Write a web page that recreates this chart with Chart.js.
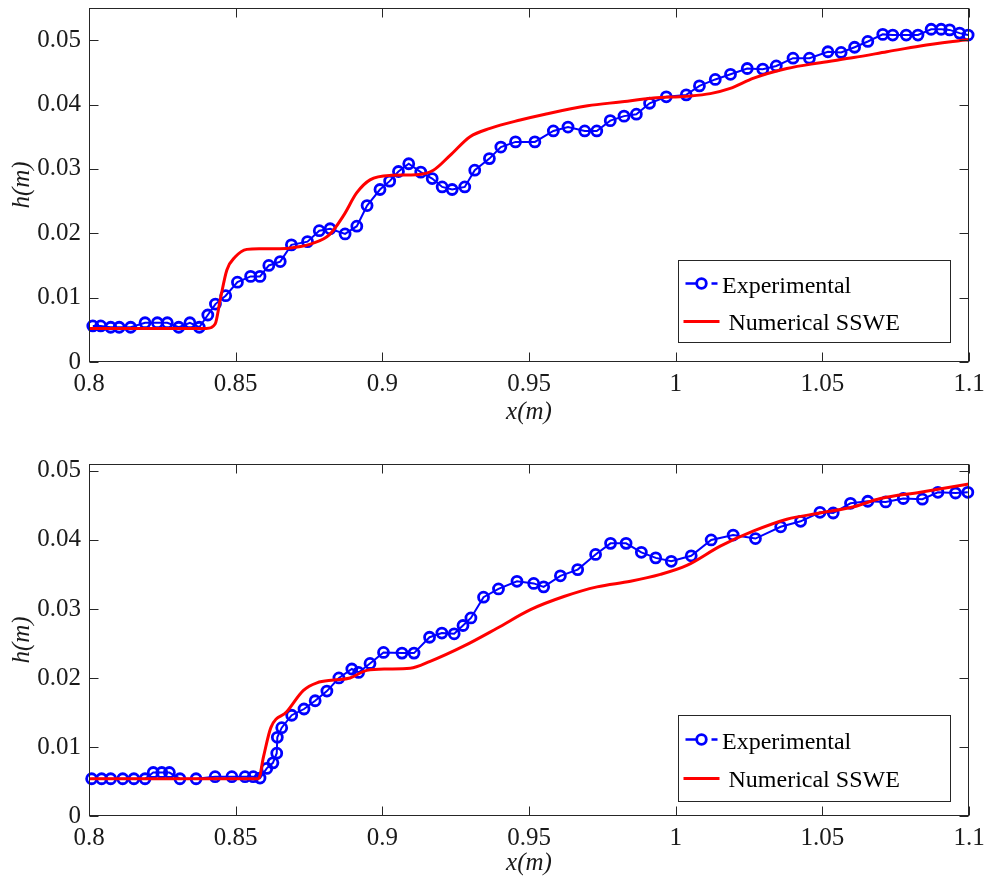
<!DOCTYPE html>
<html>
<head>
<meta charset="utf-8">
<script src="https://cdn.jsdelivr.net/npm/chart.js@4.4.0/dist/chart.umd.min.js"></script>
<style>
body { margin: 0; background: #fff; }
.panel { position: absolute; left: 0; width: 984px; }
#panel-top { top: 0; height: 442px; }
#panel-bottom { top: 442px; height: 443px; }
</style>
</head>
<body>
<div class="panel" id="panel-top"><canvas id="chart-top"></canvas></div>
<div class="panel" id="panel-bottom"><canvas id="chart-bottom"></canvas></div>
<script>
// x ticks shared by both panels
const xTicks = [0.8, 0.85, 0.9, 0.95, 1.0, 1.05, 1.1];
const xTickLabels = ['0.8', '0.85', '0.9', '0.95', '1', '1.05', '1.1'];

// top panel y ticks
const yTicksTop = [0, 0.01, 0.02, 0.03, 0.04, 0.05];
const yTickLabelsTop = ['0', '0.01', '0.02', '0.03', '0.04', '0.05'];
// bottom panel y ticks
const yTicksBottom = [0, 0.01, 0.02, 0.03, 0.04, 0.05];
const yTickLabelsBottom = ['0', '0.01', '0.02', '0.03', '0.04', '0.05'];

// top panel - experimental
const topExpX = [0.8013, 0.8040, 0.8074, 0.8103, 0.8142, 0.8191, 0.8233, 0.8267, 0.8306, 0.8344,
  0.8376, 0.8405, 0.8431, 0.8466, 0.8506, 0.8551, 0.8583, 0.8613, 0.8652, 0.8690,
  0.8745, 0.8785, 0.8822, 0.8873, 0.8913, 0.8948, 0.8992, 0.9025, 0.9055, 0.9090,
  0.9131, 0.9170, 0.9204, 0.9238, 0.9281, 0.9315, 0.9365, 0.9404, 0.9454, 0.9520,
  0.9583, 0.9633, 0.9690, 0.9731, 0.9777, 0.9824, 0.9866, 0.9911, 0.9968, 1.0036,
  1.0081, 1.0135, 1.0187, 1.0244, 1.0297, 1.0343, 1.0400, 1.0456, 1.0519, 1.0564,
  1.0610, 1.0655, 1.0706, 1.0740, 1.0786, 1.0826, 1.0871, 1.0905, 1.0934, 1.0968, 1.0997];
const topExpH = [0.0056, 0.0056, 0.0054, 0.0054, 0.0054, 0.0061, 0.0061, 0.0061, 0.0054, 0.0061,
  0.0054, 0.0073, 0.0090, 0.0103, 0.0124, 0.0133, 0.0133, 0.0150, 0.0156, 0.0182,
  0.0187, 0.0204, 0.0207, 0.0199, 0.0211, 0.0243, 0.0268, 0.0281, 0.0296, 0.0308,
  0.0295, 0.0285, 0.0272, 0.0268, 0.0272, 0.0298, 0.0316, 0.0334, 0.0342, 0.0342,
  0.0359, 0.0365, 0.0359, 0.0359, 0.0375, 0.0382, 0.0385, 0.0402, 0.0412, 0.0415,
  0.0429, 0.0439, 0.0447, 0.0456, 0.0455, 0.0460, 0.0472, 0.0472, 0.0482, 0.0481,
  0.0489, 0.0498, 0.0509, 0.0508, 0.0508, 0.0508, 0.0517, 0.0517, 0.0516, 0.0511, 0.0508];

// top panel - numerical SSWE
const topNumX = [0.800, 0.820, 0.840, 0.843, 0.8447, 0.847, 0.8498, 0.8538, 0.858, 0.865,
  0.870, 0.876, 0.882, 0.8867, 0.8913, 0.8958, 0.903, 0.9117, 0.9174, 0.9231,
  0.9299, 0.9367, 0.947, 0.9555, 0.970, 0.9811, 0.9924, 1.0038, 1.0118, 1.0186,
  1.0266, 1.0379, 1.0493, 1.0607, 1.072, 1.0834, 1.100];
const topNumH = [0.0052, 0.0052, 0.0052, 0.0059, 0.0096, 0.0143, 0.0163, 0.0175, 0.0176, 0.0176,
  0.0178, 0.0184, 0.0198, 0.0227, 0.0263, 0.0283, 0.0290, 0.0291, 0.0298, 0.0321,
  0.0350, 0.0363, 0.0376, 0.0385, 0.0398, 0.0404, 0.0410, 0.0413, 0.0417, 0.0425,
  0.0441, 0.0456, 0.0465, 0.0473, 0.0482, 0.0491, 0.0501];

// bottom panel - experimental
const botExpX = [0.8009, 0.8043, 0.8074, 0.8115, 0.8153, 0.8191, 0.8219, 0.8248, 0.8274, 0.8310,
  0.8365, 0.8430, 0.8487, 0.8532, 0.8560, 0.8583, 0.8606, 0.8627, 0.8640, 0.8642,
  0.8657, 0.8691, 0.8733, 0.8771, 0.8811, 0.8852, 0.8896, 0.8919, 0.8958, 0.9004,
  0.9067, 0.9108, 0.9161, 0.9203, 0.9245, 0.9275, 0.9302, 0.9345, 0.9396, 0.9459,
  0.9516, 0.9550, 0.9607, 0.9666, 0.9727, 0.9778, 0.9831, 0.9883, 0.9932, 0.9985,
  1.0053, 1.0121, 1.0196, 1.0272, 1.0358, 1.0426, 1.0492, 1.0537, 1.0596, 1.0655,
  1.0716, 1.0776, 1.0841, 1.0894, 1.0954, 1.0996];
const botExpH = [0.0054, 0.0054, 0.0054, 0.0054, 0.0054, 0.0054, 0.0063, 0.0063, 0.0063, 0.0054,
  0.0054, 0.0057, 0.0057, 0.0057, 0.0057, 0.0055, 0.0069, 0.0077, 0.0091, 0.0114,
  0.0128, 0.0146, 0.0155, 0.0167, 0.0181, 0.0200, 0.0213, 0.0208, 0.0221, 0.0237,
  0.0236, 0.0236, 0.0259, 0.0265, 0.0264, 0.0276, 0.0287, 0.0317, 0.0329, 0.0340,
  0.0337, 0.0332, 0.0348, 0.0357, 0.0379, 0.0395, 0.0395, 0.0382, 0.0374, 0.0369,
  0.0377, 0.0400, 0.0407, 0.0402, 0.0419, 0.0427, 0.0440, 0.0439, 0.0453, 0.0456,
  0.0455, 0.0460, 0.0459, 0.0469, 0.0468, 0.0469];

// bottom panel - numerical SSWE
const botNumX = [0.800, 0.830, 0.8578, 0.8595, 0.862, 0.8674, 0.8731, 0.8777, 0.8834, 0.889,
  0.8947, 0.9015, 0.9095, 0.9163, 0.9277, 0.9391, 0.9505, 0.9619, 0.9732, 0.9846,
  0.9948, 1.0038, 1.0152, 1.0266, 1.0379, 1.0493, 1.0607, 1.0698, 1.0834, 1.100];
const botNumH = [0.0054, 0.0054, 0.0054, 0.0086, 0.0128, 0.0151, 0.0182, 0.0193, 0.0197, 0.0200,
  0.0211, 0.0213, 0.0214, 0.0224, 0.0246, 0.0272, 0.0299, 0.0318, 0.0332, 0.0340,
  0.0350, 0.0363, 0.0391, 0.0413, 0.0430, 0.0439, 0.0448, 0.0460, 0.0469, 0.0481];

const seriesNames = ['Experimental', 'Numerical SSWE'];

const SERIF = "'Liberation Serif', 'Times New Roman', serif";
const INK = '#262626';

function toPoints(xs, ys) {
  return xs.map((x, i) => ({ x: x, y: ys[i] }));
}

// no extra room for edge labels, layout padding decides the plot box
function noEdgePadding(s) {
  s.paddingLeft = 0; s.paddingRight = 0; s.paddingTop = 0; s.paddingBottom = 0;
}

// MATLAB style box: frame, inward ticks on all sides, legend box inside axes
const matlabBox = {
  id: 'matlabBox',
  afterDraw(chart, args, opts) {
    const ctx = chart.ctx;
    const a = chart.chartArea;
    const xs = chart.scales.x, ys = chart.scales.y;
    const L = Math.round(a.left) + 0.5, R = Math.round(a.right) - 0.5;
    const T = Math.round(a.top) + 0.5, B = Math.round(a.bottom) - 0.5;
    ctx.save();
    ctx.strokeStyle = INK;
    ctx.lineWidth = 1;
    ctx.strokeRect(L, T, R - L, B - T);
    ctx.beginPath();
    xs.ticks.forEach(t => {
      const px = Math.round(xs.getPixelForValue(t.value)) + 0.5;
      ctx.moveTo(px, B); ctx.lineTo(px, B - 9);
      ctx.moveTo(px, T); ctx.lineTo(px, T + 9);
    });
    ys.ticks.forEach(t => {
      const py = Math.round(ys.getPixelForValue(t.value)) + 0.5;
      ctx.moveTo(L, py); ctx.lineTo(L + 9, py);
      ctx.moveTo(R, py); ctx.lineTo(R - 9, py);
    });
    ctx.stroke();

    // legend
    const bx = opts.x + 0.5, by = opts.y + 0.5;
    ctx.fillStyle = '#fff';
    ctx.fillRect(bx, by, opts.w, opts.h);
    ctx.strokeStyle = INK;
    ctx.strokeRect(bx, by, opts.w, opts.h);
    const ds = chart.data.datasets;
    // row 1: line + circle marker
    const y1 = by + opts.row1;
    ctx.strokeStyle = ds[1].borderColor;
    ctx.lineWidth = 2.5;
    ctx.beginPath();
    ctx.moveTo(bx + 7, y1); ctx.lineTo(bx + 18, y1);
    ctx.moveTo(bx + 33, y1); ctx.lineTo(bx + 39, y1);
    ctx.stroke();
    ctx.lineWidth = 2.8;
    ctx.beginPath();
    ctx.arc(bx + 23, y1, 4.8, 0, Math.PI * 2);
    ctx.stroke();
    // row 2: red line
    const y2 = by + opts.row2;
    ctx.strokeStyle = ds[0].borderColor;
    ctx.lineWidth = 3;
    ctx.beginPath();
    ctx.moveTo(bx + 5, y2); ctx.lineTo(bx + 41, y2);
    ctx.stroke();

    ctx.fillStyle = '#000';
    ctx.font = '24px ' + SERIF;
    ctx.textBaseline = 'alphabetic';
    ctx.textAlign = 'left';
    ctx.fillText(ds[1].label, bx + 43.5, y1 + 9);
    ctx.fillText(ds[0].label, bx + 50, y2 + 8.5);
    ctx.restore();
  }
};

function makeChart(canvasId, expX, expH, numX, numH, yMax, yTicks, yTickLabels, lay) {
  return new Chart(document.getElementById(canvasId), {
    type: 'line',
    data: {
      datasets: [
        {
          label: seriesNames[1],
          data: toPoints(numX, numH),
          borderColor: '#ff0000',
          borderWidth: 3,
          pointRadius: 0,
          cubicInterpolationMode: 'monotone',
          fill: false,
          order: 0
        },
        {
          label: seriesNames[0],
          data: toPoints(expX, expH),
          borderColor: '#0000ff',
          borderWidth: 2,
          pointRadius: 5,
          pointBorderWidth: 2.8,
          pointBorderColor: '#0000ff',
          pointBackgroundColor: 'rgba(0,0,0,0)',
          tension: 0,
          fill: false,
          clip: 8,
          order: 1
        }
      ]
    },
    options: {
      responsive: true,
      maintainAspectRatio: false,
      animation: false,
      events: [],
      layout: { padding: { top: lay.padTop, right: 15, left: 0, bottom: 0 } },
      plugins: {
        legend: { display: false },
        tooltip: { enabled: false },
        matlabBox: lay.legend
      },
      scales: {
        x: {
          type: 'linear',
          min: 0.8,
          max: 1.1,
          afterBuildTicks: s => { s.ticks = xTicks.map(v => ({ value: v })); },
          afterFit: s => { s.height = lay.xAxisH; noEdgePadding(s); },
          grid: { display: false, drawTicks: false },
          border: { display: false },
          ticks: {
            autoSkip: false,
            maxRotation: 0,
            padding: 7,
            color: '#1a1a1a',
            font: { family: SERIF, size: 25 },
            callback: (v, i) => xTickLabels[i]
          },
          title: {
            display: true,
            text: 'x(m)',
            color: '#1a1a1a',
            font: { family: SERIF, size: 25, style: 'italic' },
            padding: { top: 0, bottom: lay.titlePad }
          }
        },
        y: {
          type: 'linear',
          min: 0,
          max: yMax,
          afterBuildTicks: s => { s.ticks = yTicks.map(v => ({ value: v })); },
          afterFit: s => { s.width = 89; noEdgePadding(s); },
          grid: { display: false, drawTicks: false },
          border: { display: false },
          ticks: {
            padding: 8,
            color: '#1a1a1a',
            font: { family: SERIF, size: 25 },
            callback: (v, i) => yTickLabels[i]
          },
          title: {
            display: true,
            text: 'h(m)',
            color: '#1a1a1a',
            font: { family: SERIF, size: 25, style: 'italic' },
            padding: { top: 7, bottom: 0 }
          }
        }
      }
    },
    plugins: [matlabBox]
  });
}

makeChart('chart-top', topExpX, topExpH, topNumX, topNumH, 0.055, yTicksTop, yTickLabelsTop, {
  padTop: 8, xAxisH: 80, titlePad: 15,
  legend: { x: 678, y: 260, w: 272, h: 82, row1: 23, row2: 61 }
});

makeChart('chart-bottom', botExpX, botExpH, botNumX, botNumH, 0.051, yTicksBottom, yTickLabelsBottom, {
  padTop: 22, xAxisH: 69, titlePad: 7,
  legend: { x: 678, y: 273, w: 272, h: 86, row1: 24, row2: 63 }
});
</script>
</body>
</html>
